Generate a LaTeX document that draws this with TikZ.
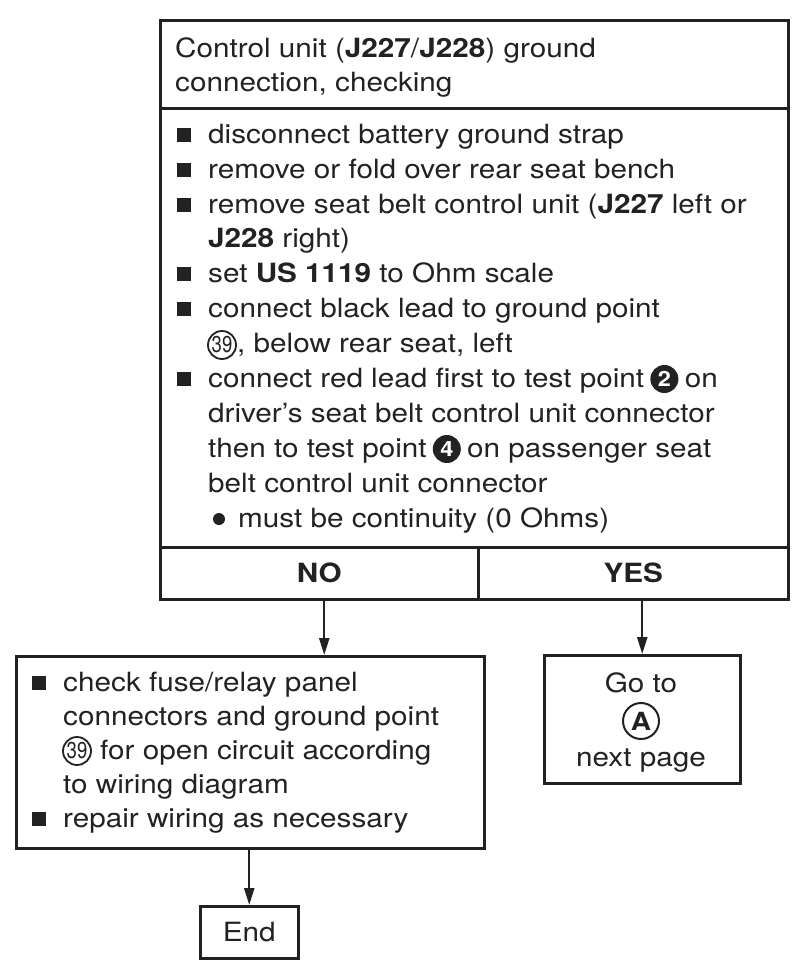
\documentclass[tikz,border=0pt]{standalone}
\usepackage{fontspec}
\setmainfont{TeX Gyre Heros}[FakeStretch=1.12]
\usetikzlibrary{arrows.meta,calc}
\definecolor{ink}{HTML}{222222}
\begin{document}
\begin{tikzpicture}[x=1pt,y=-1pt,
  box/.style={draw=ink,line width=2.5pt,rectangle,inner sep=0pt,anchor=north west,text=ink,font=\fontsize{26.5}{35}\selectfont},
  txt/.style={anchor=base west,inner sep=0pt,text=ink,font=\fontsize{26.5}{35}\selectfont},
  sq/.style={fill=ink,minimum size=14pt,inner sep=0pt,rectangle},
  rdot/.style={fill=ink,circle,minimum size=12pt,inner sep=0pt},
  ocirc/.style={circle,draw=ink,line width=1.8pt,minimum size=28pt,inner sep=0pt,text=ink,font=\fontsize{23}{23}\selectfont},
  bcirc/.style={circle,fill=ink,minimum size=28pt,inner sep=0pt,text=white,font=\fontsize{21}{21}\selectfont\bfseries},
  arr/.style={draw=ink,line width=2.2pt,-{Triangle[length=17pt,width=10pt]}},
]
\useasboundingbox (0,0) rectangle (801,975);
\fill[white] (0,0) rectangle (801,975);

% main box
\node[box,minimum width=628pt,minimum height=88pt] (title) at (159,19) {};
\node[box,minimum width=628pt,minimum height=439pt] (body) at (159,107) {};
\node[box,minimum width=318pt,minimum height=52pt,font=\fontsize{26.5}{35}\selectfont\bfseries] (no) at (159,546) {NO};
\node[box,minimum width=310pt,minimum height=52pt,font=\fontsize{26.5}{35}\selectfont\bfseries] (yes) at (477,546) {YES};

% lower boxes
\node[box,minimum width=468pt,minimum height=192pt] (fix) at (15,655) {};
\node[box,minimum width=196pt,minimum height=128pt] (go) at (543,654) {};
\node[box,minimum width=98pt,minimum height=52pt] (end) at (199,905) {End};

% title text
\node[txt] (t1) at (175,57) {Control unit (\textbf{J227}/\textbf{J228}) ground};
\node[txt] (t2) at (175,91) {connection, checking};

% body text
\node[sq] (b1) at (184,135) {};
\node[txt] (l1) at (208,143) {disconnect battery ground strap};
\node[sq] (b2) at (184,170) {};
\node[txt] (l2) at (208,178) {remove or fold over rear seat bench};
\node[sq] (b3) at (184,205) {};
\node[txt] (l3) at (208,213) {remove seat belt control unit (\textbf{J227} left or};
\node[txt] (l4) at (208,247) {\textbf{J228} right)};
\node[sq] (b5) at (184,274) {};
\node[txt] (l5) at (208,282) {set \textbf{US 1119} to Ohm scale};
\node[sq] (b6) at (184,309) {};
\node[txt] (l6) at (208,317) {connect black lead to ground point};
\node[ocirc] (c39a) at (222,345) {\scalebox{0.72}[1]{39}};
\node[txt] (l7) at (237,352) {, below rear seat, left};
\node[sq] (b8) at (184,379) {};
\node[txt] (l8) at (208,387) {connect red lead first to test point};
\node[bcirc] (c2) at ($(l8.base east)+(20,-8)$) {2};
\node[txt] (l8b) at ($(c2.east |- l8.base)+(6,0)$) {on};
\node[txt] (l9) at (208,422) {driver's seat belt control unit connector};
\node[txt] (l10) at (208,457) {then to test point};
\node[bcirc] (c4) at ($(l10.base east)+(20,-8)$) {4};
\node[txt] (l10b) at ($(c4.east |- l10.base)+(6,0)$) {on passenger seat};
\node[txt] (l11) at (208,492) {belt control unit connector};
\node[rdot] (d12) at (219,519) {};
\node[txt] (l12) at (238,527) {must be continuity (0 Ohms)};

% fix box text
\node[sq] (fb1) at (39,683) {};
\node[txt] (f1) at (63,691) {check fuse/relay panel};
\node[txt] (f2) at (63,725) {connectors and ground point};
\node[ocirc] (c39b) at (77,751) {\scalebox{0.72}[1]{39}};
\node[txt] (f3) at (100,759) {for open circuit according};
\node[txt] (f4) at (63,793) {to wiring diagram};
\node[sq] (fb5) at (39,819) {};
\node[txt] (f5) at (63,827) {repair wiring as necessary};

% go box text
\node[txt,anchor=base] (g1) at (641,692) {Go to};
\node[circle,draw=ink,line width=2pt,minimum size=36pt,inner sep=0pt,text=ink,font=\fontsize{25}{25}\selectfont\bfseries] (ca) at (641,721) {A};
\node[txt,anchor=base] (g3) at (641,766) {next page};

% connectors
\coordinate (na) at ([xshift=5pt]no.south);
\draw[arr] (na) -- (na |- fix.north);
\draw[arr] (go.north |- yes.south) -- (go.north);
\draw[arr] (end.north |- fix.south) -- (end.north);
\end{tikzpicture}
\end{document}
